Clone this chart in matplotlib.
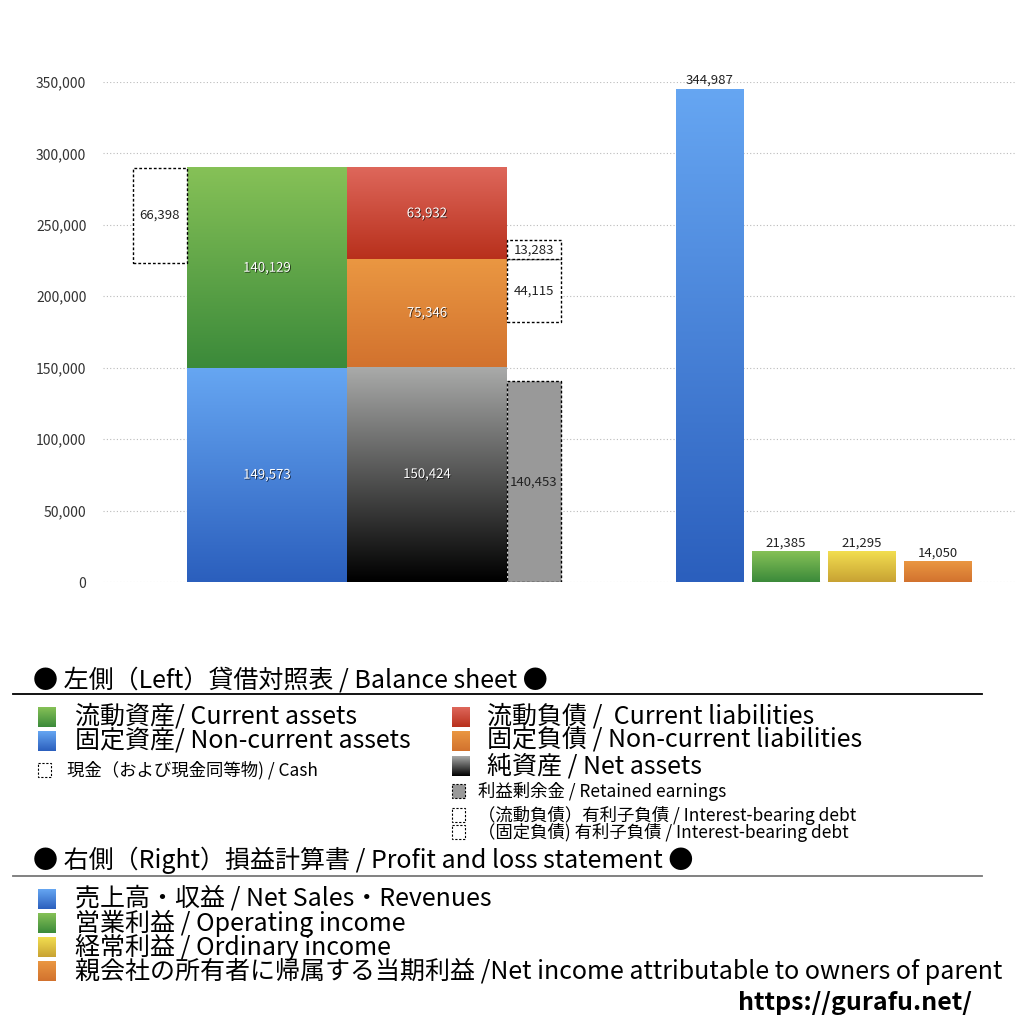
import numpy as np
import matplotlib
matplotlib.use('Agg')
import matplotlib.pyplot as plt
import matplotlib.patheffects as pe
from matplotlib.colors import to_rgb
from matplotlib.patches import Rectangle

plt.rcParams['font.family'] = ['Noto Sans CJK JP', 'DejaVu Sans']

# --- balance sheet (left) ---
current_assets = 140129
noncurrent_assets = 149573
cash = 66398
current_liab = 63932
noncurrent_liab = 75346
net_assets = 150424
retained_earnings = 140453
debt_current = 13283
debt_noncurrent = 44115

# --- profit and loss (right) ---
pl_values = [344987, 21385, 21295, 14050]
yticks = [0, 50000, 100000, 150000, 200000, 250000, 300000, 350000]

# gradient colours (top, bottom)
BLUE = ('#66a6f2', '#2b5fbd')
GREEN = ('#86c157', '#3b8a3a')
RED = ('#de675b', '#b8301c')
ORANGE = ('#ea9742', '#d2722e')
BLACK = ('#a9aaa9', '#000000')
YELLOW = ('#f2de50', '#c8a233')
pl_colors = [BLUE, GREEN, YELLOW, ORANGE]

VAL_FS = 9.5


def grad(ax, x0, x1, ybot, ytop, cols, z=2):
    t = np.linspace(0, 1, 128)[:, None, None]
    top = np.array(to_rgb(cols[0]))[None, None, :]
    bot = np.array(to_rgb(cols[1]))[None, None, :]
    arr = top * (1 - t) + bot * t
    ax.imshow(arr, extent=(x0, x1, ybot, ytop), origin='upper',
              aspect='auto', interpolation='bilinear', zorder=z)


def dotted_box(ax, x0, y0, w, h, fc='white', lw=1.0, z=3):
    ax.add_patch(Rectangle((x0, y0), w, h, facecolor=fc, edgecolor='black',
                           linestyle=(0, (2, 1.5)), linewidth=lw, zorder=z))


shadow = [pe.withSimplePatchShadow(offset=(0.6, -0.6), shadow_rgbFace='black', alpha=0.7)]


def white_label(ax, x, y, v):
    ax.text(x, y, f'{v:,}', color='white', fontsize=VAL_FS, ha='center', va='center',
            path_effects=shadow, zorder=5)


def black_label(ax, x, y, v):
    ax.text(x, y, f'{v:,}', fontsize=VAL_FS, ha='center', va='center', color='#222222',
            zorder=5)


fig = plt.figure(figsize=(10.24, 10.24), dpi=100)
ax = fig.add_axes([103 / 1024, (1024 - 582) / 1024, 912 / 1024, 500 / 1024])

# left: assets stack
total = noncurrent_assets + current_assets
grad(ax, 84, 244, 0, noncurrent_assets, BLUE)
grad(ax, 84, 244, noncurrent_assets, total, GREEN)
white_label(ax, 164, noncurrent_assets / 2, noncurrent_assets)
white_label(ax, 164, noncurrent_assets + current_assets / 2, current_assets)

# cash box
dotted_box(ax, 30, total - cash, 54, cash)
black_label(ax, 57, total - cash / 2, cash)

# liabilities + net assets stack
split = net_assets + noncurrent_liab
grad(ax, 244, 404, 0, net_assets, BLACK)
grad(ax, 244, 404, net_assets, split, ORANGE)
grad(ax, 244, 404, split, split + current_liab, RED)
white_label(ax, 324, net_assets / 2, net_assets)
white_label(ax, 324, net_assets + noncurrent_liab / 2, noncurrent_liab)
white_label(ax, 324, split + current_liab / 2, current_liab)

# retained earnings + interest-bearing debt boxes
dotted_box(ax, 404, 0, 54, retained_earnings, fc='#999999')
black_label(ax, 431, retained_earnings / 2, retained_earnings)
dotted_box(ax, 404, split - debt_noncurrent, 54, debt_noncurrent)
black_label(ax, 431, split - debt_noncurrent / 2, debt_noncurrent)
dotted_box(ax, 404, split, 54, debt_current)
black_label(ax, 431, split + debt_current / 2, debt_current)

# right: profit and loss bars
pl_x = [607, 683, 759, 835]
for xc, v, c in zip(pl_x, pl_values, pl_colors):
    grad(ax, xc - 34, xc + 34, 0, v, c)
    ax.text(xc, v + 1500, f'{v:,}', fontsize=VAL_FS, ha='center', va='bottom',
            color='#222222', zorder=5, clip_on=False)

ax.set_xlim(0, 912)
ax.set_ylim(0, 350000)
ax.set_yticks(yticks)
ax.set_yticklabels([f'{t:,}' for t in yticks], fontsize=10, color='#333333')
ax.tick_params(axis='y', length=0, pad=12)
ax.set_xticks([])
ax.grid(axis='y', linestyle=(0, (1, 2)), color='#bbbbbb', linewidth=0.8)
ax.set_axisbelow(True)
for s in ax.spines.values():
    s.set_visible(False)

# --- legend area, in pixel coordinates ---
ov = fig.add_axes([0, 0, 1, 1])
ov.set_xlim(0, 1024)
ov.set_ylim(1024, 0)
ov.axis('off')

big = 18
small = 12.5

ov.text(33, 680, '● 左側（Left）貸借対照表 / Balance sheet ●', fontsize=big, va='center')
ov.plot([13, 982], [694, 694], color='black', lw=1.3)

legend_left = [(717, GREEN, '流動資産/ Current assets'),
               (741, BLUE, '固定資産/ Non-current assets')]
legend_right = [(717, RED, '流動負債 /  Current liabilities'),
                (741, ORANGE, '固定負債 / Non-current liabilities'),
                (766, BLACK, '純資産 / Net assets')]
for y, c, s in legend_left:
    grad(ov, 38, 56, y + 10, y - 10, c)
    ov.text(75, y, s, fontsize=big, va='center')
for y, c, s in legend_right:
    grad(ov, 452, 470, y + 10, y - 10, c)
    ov.text(487, y, s, fontsize=big, va='center')

dotted_box(ov, 38, 763, 13, 14, lw=0.8)
ov.text(67, 770, '現金（および現金同等物) / Cash', fontsize=small, va='center')
dotted_box(ov, 452, 784, 13, 14, fc='#999999', lw=0.8)
ov.text(478, 791, '利益剰余金 / Retained earnings', fontsize=small, va='center')
dotted_box(ov, 452, 808, 13, 14, lw=0.8)
ov.text(478, 815, '（流動負債）有利子負債 / Interest-bearing debt', fontsize=small, va='center')
dotted_box(ov, 452, 825, 13, 14, lw=0.8)
ov.text(478, 832, '（固定負債) 有利子負債 / Interest-bearing debt', fontsize=small, va='center')

ov.text(33, 860, '● 右側（Right）損益計算書 / Profit and loss statement ●', fontsize=big,
        va='center')
ov.plot([13, 982], [876, 876], color='#777777', lw=1.3)

pl_legend = ['売上高・収益 / Net Sales・Revenues', '営業利益 / Operating income',
             '経常利益 / Ordinary income',
             '親会社の所有者に帰属する当期利益 /Net income attributable to owners of parent']
for i, (s, c) in enumerate(zip(pl_legend, pl_colors)):
    y = 899 + 24 * i
    grad(ov, 38, 56, y + 10, y - 10, c)
    ov.text(75, y, s, fontsize=big, va='center')

ov.text(972, 1003, 'https://gurafu.net/', fontsize=big, fontweight='bold', ha='right',
        va='center')
ov.set_xlim(0, 1024)
ov.set_ylim(1024, 0)

fig.savefig('out.png', dpi=100)
